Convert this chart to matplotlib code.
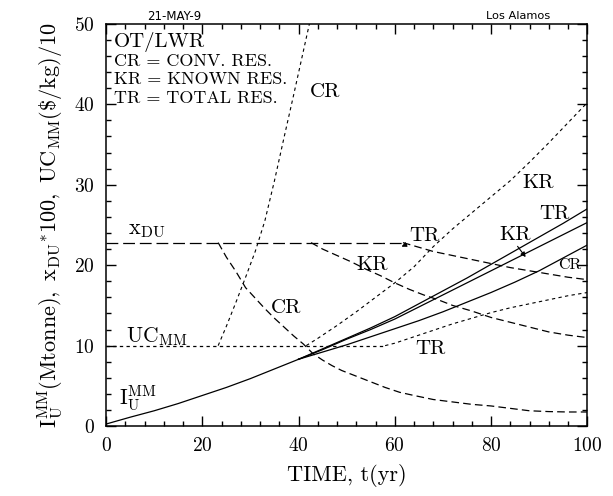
import matplotlib
matplotlib.use("Agg")
import matplotlib.pyplot as plt
from matplotlib.ticker import MultipleLocator

plt.rcParams['font.family'] = 'serif'
plt.rcParams['font.serif'] = ['cmr10']
plt.rcParams['mathtext.fontset'] = 'cm'
plt.rcParams['axes.formatter.use_mathtext'] = True
plt.rcParams['lines.scale_dashes'] = False

# inventory I_U^MM (Mtonne): common part, then one branch per resource case
t_common = [0, 5, 10, 15, 20, 25, 30, 35, 40]
inv_common = [0.25, 1.1, 1.9, 2.8, 3.8, 4.8, 5.9, 7.1, 8.3]
t_branch = [40, 45, 50, 55, 60, 65, 70, 75, 80, 85, 90, 95, 100]
inv_tr = [8.3, 9.6, 10.9, 12.2, 13.6, 15.2, 16.8, 18.4, 20.1, 21.8, 23.5, 25.2, 27.0]
inv_kr = [8.3, 9.5, 10.8, 12.0, 13.3, 14.8, 16.3, 17.8, 19.3, 20.8, 22.3, 23.8, 25.3]
inv_cr = [8.3, 9.2, 10.1, 11.1, 12.1, 13.1, 14.2, 15.4, 16.6, 17.9, 19.3, 20.9, 22.5]

# tails assay x_DU*100
xdu_base = 22.8
t_xdu_cr = [23.3, 25, 27, 29, 31, 33, 35, 37, 39, 41, 43, 45, 47, 49, 52, 55, 58,
            61, 64, 68, 72, 76, 80, 84, 88, 92, 96, 100]
xdu_cr = [22.8, 21.0, 19.2, 17.2, 15.9, 14.6, 13.4, 12.3, 11.2, 10.2, 9.0, 8.2, 7.5,
          6.9, 6.2, 5.5, 4.8, 4.2, 3.8, 3.3, 3.0, 2.7, 2.5, 2.2, 1.9, 1.8, 1.75, 1.75]
t_xdu_kr = [42.6, 45, 48, 51, 54, 57, 60, 63, 66, 69, 72, 76, 80, 84, 88, 92, 96, 100]
xdu_kr = [22.8, 22.0, 21.2, 20.4, 19.5, 18.7, 17.8, 17.0, 16.3, 15.7, 15.0, 14.3,
          13.5, 12.9, 12.3, 11.7, 11.3, 11.0]
t_xdu_tr = [61.7, 64, 68, 72, 76, 80, 84, 88, 92, 96, 100]
xdu_tr = [22.8, 22.4, 21.7, 21.2, 20.7, 20.2, 19.7, 19.3, 18.9, 18.5, 18.2]

# unit cost UC_MM ($/kg)/10
uc_base = 10.0
t_uc_cr = [23.3, 25, 27, 29, 31, 33, 35, 37, 39, 41, 43]
uc_cr = [10, 12.4, 15.4, 18.5, 21.7, 25.5, 30.5, 35.9, 41.2, 46.6, 52]
t_uc_kr = [41.6, 44, 48, 52, 56, 60, 64, 68, 72, 76, 80, 84, 88, 92, 96, 100]
uc_kr = [10, 10.9, 12.5, 14.2, 16, 17.8, 19.8, 22.3, 24.5, 26.5, 28.5, 30.5, 32.8,
         35.2, 37.7, 40.2]
t_uc_tr = [58, 60, 64, 68, 72, 76, 80, 84, 88, 92, 96, 100]
uc_tr = [10, 10.3, 11.1, 11.9, 12.7, 13.4, 14.1, 14.7, 15.2, 15.7, 16.2, 16.6]

fig = plt.figure(figsize=(6.13, 4.96), dpi=100)
ax = fig.add_axes([0.173, 0.141, 0.785, 0.811])

lw = 0.9
long_dash = (0, (8.5, 3.5))
mid_dash = (0, (5.5, 3.0))
short_dash = (0, (2.4, 2.4))

# solid inventory curves
ax.plot(t_common, inv_common, color='k', lw=lw)
for inv in (inv_tr, inv_kr, inv_cr):
    ax.plot(t_branch, inv, color='k', lw=lw)

# x_DU: flat until each branch leaves
ax.plot([0, t_xdu_tr[0]], [xdu_base, xdu_base], color='k', lw=lw, ls=long_dash)
for tt, vv in ((t_xdu_cr, xdu_cr), (t_xdu_kr, xdu_kr), (t_xdu_tr, xdu_tr)):
    ax.plot(tt, vv, color='k', lw=lw, ls=mid_dash)

# UC_MM
ax.plot([0, t_uc_tr[0]], [uc_base, uc_base], color='k', lw=lw, ls=short_dash)
for tt, vv in ((t_uc_cr, uc_cr), (t_uc_kr, uc_kr), (t_uc_tr, uc_tr)):
    ax.plot(tt, vv, color='k', lw=0.8, ls=short_dash)

ax.set_xlim(0, 100)
ax.set_ylim(0, 50)
ax.xaxis.set_major_locator(MultipleLocator(20))
ax.xaxis.set_minor_locator(MultipleLocator(4))
ax.yaxis.set_major_locator(MultipleLocator(10))
ax.yaxis.set_minor_locator(MultipleLocator(2))
ax.tick_params(which='both', direction='in', top=True, right=True, width=1.0)
ax.tick_params(which='major', length=7, labelsize=14, pad=8)
ax.tick_params(which='minor', length=3.5)
for s in ax.spines.values():
    s.set_linewidth(1.1)

ax.set_xlabel('TIME, t(yr)', fontsize=16, labelpad=6)
ax.set_ylabel(r'$\mathrm{I_U^{MM}(Mtonne),\ x_{DU}{}^{*}100,\ UC_{MM}(\$/kg)/10}$',
              fontsize=16, labelpad=6)

# header stamps
fig.text(0.285, 0.967, '21-MAY-9', family='DejaVu Sans', fontsize=8.5,
         ha='center', va='center')
fig.text(0.845, 0.967, 'Los Alamos', family='DejaVu Sans', fontsize=8.2,
         ha='center', va='center')

# legend block
ax.text(1.6, 47.7, 'OT/LWR', fontsize=15, va='center')
ax.text(1.6, 45.3, 'CR = CONV. RES.', fontsize=13, va='center')
ax.text(1.6, 43.1, 'KR = KNOWN RES.', fontsize=13, va='center')
ax.text(1.6, 40.7, 'TR = TOTAL RES.', fontsize=13, va='center')

# curve labels
ax.text(4.6, 24.4, r'$\mathrm{x_{DU}}$', fontsize=16, va='center')
ax.text(4.2, 11.1, r'$\mathrm{UC_{MM}}$', fontsize=15.5, va='center')
ax.text(2.6, 3.4, r'$\mathrm{I_U^{MM}}$', fontsize=15.5, va='center')
ax.text(42.3, 41.5, 'CR', fontsize=15, va='center')
ax.text(34.3, 14.7, 'CR', fontsize=15, va='center')
ax.text(52.0, 20.0, 'KR', fontsize=15, va='center')
ax.text(64.3, 9.6, 'TR', fontsize=15, va='center')
ax.text(86.5, 30.2, 'KR', fontsize=15, va='center')
ax.text(90.0, 26.4, 'TR', fontsize=15, va='center')
ax.text(94.0, 20.0, 'CR', fontsize=11.5, va='center')
ax.annotate('TR', xy=(61.4, 22.3), xytext=(63.0, 23.6), fontsize=15, va='center',
            arrowprops=dict(arrowstyle='-|>', color='k', lw=0.8,
                            mutation_scale=7, shrinkA=0, shrinkB=0))
ax.annotate('KR', xy=(87.2, 21.0), xytext=(81.8, 23.8), fontsize=15, va='center',
            arrowprops=dict(arrowstyle='-|>', color='k', lw=0.8,
                            mutation_scale=7, shrinkA=0, shrinkB=0,
                            relpos=(0.5, 0.0)))

fig.savefig('out.png', dpi=100)
